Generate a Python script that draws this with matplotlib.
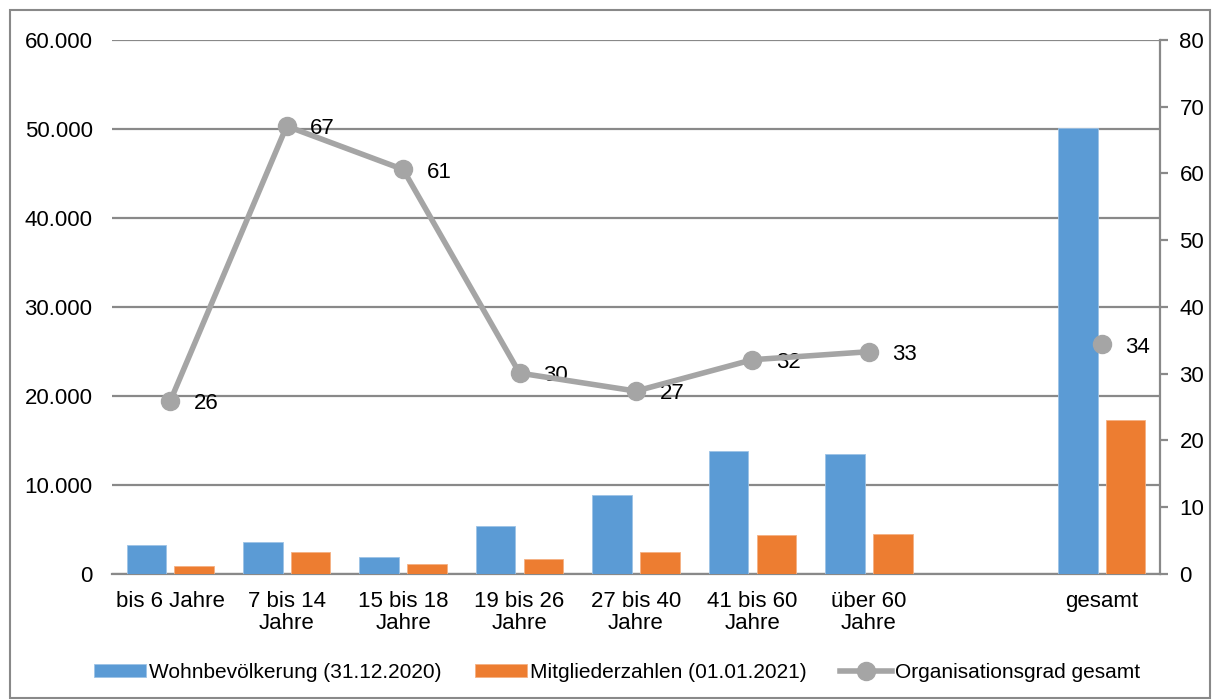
import numpy as np
import matplotlib
matplotlib.use("Agg")
import matplotlib.pyplot as plt
from matplotlib.patches import Rectangle
from matplotlib.ticker import FuncFormatter

plt.rcParams['font.family'] = ['Liberation Sans', 'DejaVu Sans']
plt.rcParams['font.size'] = 16

categories = ["bis 6 Jahre", "7 bis 14\nJahre", "15 bis 18\nJahre", "19 bis 26\nJahre",
              "27 bis 40\nJahre", "41 bis 60\nJahre", "über 60\nJahre", "", "gesamt"]
bevoelkerung = [3300, 3600, 1900, 5400, 8900, 13800, 13500, np.nan, 50100]
mitglieder = [900, 2450, 1150, 1700, 2450, 4400, 4500, np.nan, 17300]
orga_grad = [25.9, 67.1, 60.6, 30.1, 27.4, 32.1, 33.3, np.nan, 34.4]

blue = "#5B9BD5"
orange = "#ED7D31"
grey = "#A5A5A5"
axis_grey = "#898989"

fig = plt.figure(figsize=(12.15, 7), dpi=100)
ax = fig.add_axes([0.0922, 0.18, 0.8625, 0.7629])
ax2 = ax.twinx()

x = np.arange(len(categories))
w = 0.34
ax.bar(x - 0.205, bevoelkerung, w, color=blue, edgecolor="#9DC3E6", linewidth=0.6,
       label="Wohnbevölkerung (31.12.2020)", zorder=3)
ax.bar(x + 0.205, mitglieder, w, color=orange, edgecolor="#F4B183", linewidth=0.6,
       label="Mitgliederzahlen (01.01.2021)", zorder=3)

ax.set_xlim(-0.5, len(categories) - 0.5)
ax.set_ylim(0, 60000)
ax.set_yticks(np.arange(0, 60001, 10000))
ax.yaxis.set_major_formatter(FuncFormatter(lambda v, p: f"{int(v):,}".replace(",", ".")))
ax.set_xticks(x)
ax.set_xticklabels(categories, linespacing=1.1)
ax.tick_params(axis="y", length=0, pad=14)
ax.tick_params(axis="x", length=0, pad=12)
ax.grid(axis="y", color=axis_grey, linewidth=1.6, zorder=0)
ax.set_axisbelow(True)
for s in ["left", "top", "right"]:
    ax.spines[s].set_visible(False)
ax.spines["bottom"].set_color(axis_grey)
ax.spines["bottom"].set_linewidth(1.6)

ax2.plot(x, orga_grad, color=grey, linewidth=4, marker="o", markersize=13,
         label="Organisationsgrad gesamt", zorder=4)
for xi, v in zip(x, orga_grad):
    if not np.isnan(v):
        ax2.annotate(f"{v:.0f}", (xi, v), xytext=(17, -2), textcoords="offset points",
                     ha="left", va="center", fontsize=16)
ax2.set_ylim(0, 80)
ax2.set_yticks(np.arange(0, 81, 10))
ax2.tick_params(axis="y", length=6, width=1.6, color=axis_grey, pad=8)
for s in ["left", "top", "bottom"]:
    ax2.spines[s].set_visible(False)
ax2.spines["right"].set_color(axis_grey)
ax2.spines["right"].set_linewidth(1.6)

h1, l1 = ax.get_legend_handles_labels()
h2, l2 = ax2.get_legend_handles_labels()
fig.legend(h1 + h2, l1 + l2, loc="center", bbox_to_anchor=(0.508, 0.04), ncol=3,
           frameon=False, handlelength=2.5, handleheight=0.6, handletextpad=0.15,
           columnspacing=1.6, fontsize=15)

fig.patches.append(Rectangle((0.008, 0.003), 0.988, 0.983, transform=fig.transFigure,
                             fill=False, edgecolor=axis_grey, linewidth=1.5))

fig.savefig("out.png", dpi=100)
